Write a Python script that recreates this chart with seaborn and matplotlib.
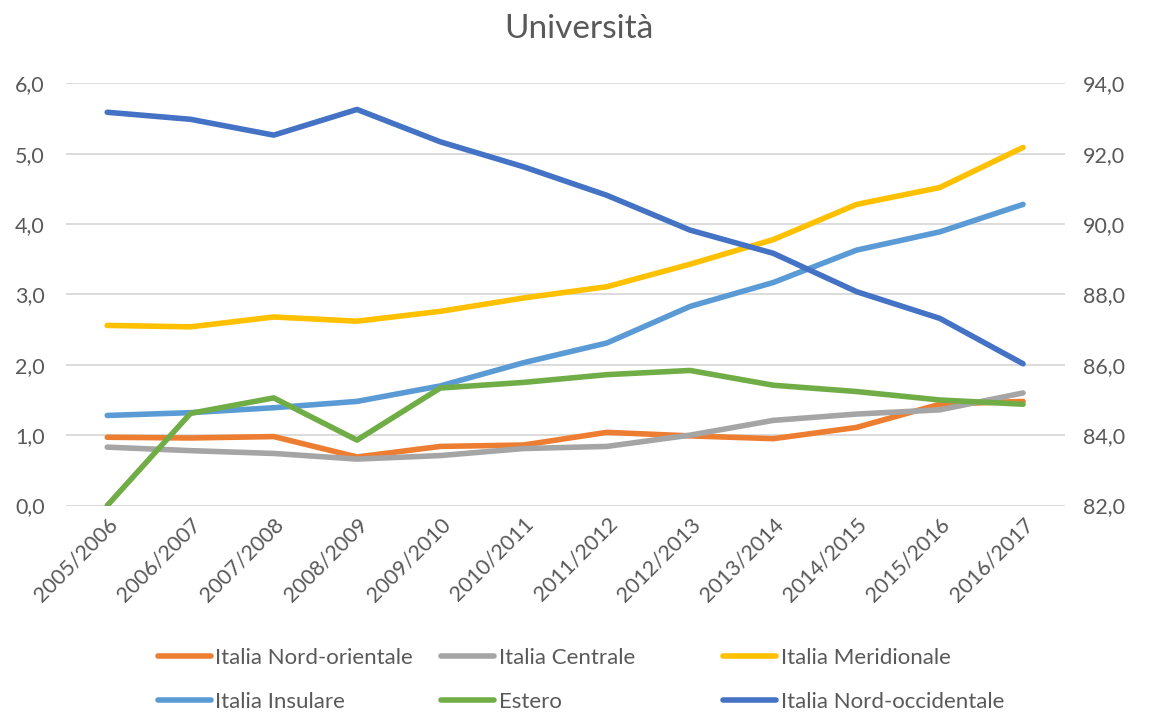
import pandas as pd
import numpy as np
import matplotlib
matplotlib.use('Agg')
import matplotlib.pyplot as plt
from matplotlib.ticker import FuncFormatter, MultipleLocator
from matplotlib.lines import Line2D
import seaborn as sns

# data
anni = ['2005/2006', '2006/2007', '2007/2008', '2008/2009', '2009/2010', '2010/2011',
        '2011/2012', '2012/2013', '2013/2014', '2014/2015', '2015/2016', '2016/2017']
nord_orientale = [0.97, 0.96, 0.98, 0.69, 0.84, 0.86, 1.04, 0.99, 0.95, 1.11, 1.44, 1.48]
centrale = [0.83, 0.78, 0.74, 0.66, 0.71, 0.81, 0.84, 1.00, 1.21, 1.30, 1.36, 1.60]
meridionale = [2.56, 2.54, 2.68, 2.62, 2.76, 2.95, 3.11, 3.43, 3.78, 4.28, 4.52, 5.09]
insulare = [1.28, 1.32, 1.39, 1.48, 1.70, 2.03, 2.31, 2.83, 3.17, 3.63, 3.89, 4.28]
estero = [0.00, 1.31, 1.53, 0.93, 1.67, 1.75, 1.86, 1.92, 1.71, 1.62, 1.50, 1.44]
# right axis
nord_occidentale = [93.18, 92.98, 92.53, 93.26, 92.34, 91.63, 90.82, 89.83, 89.17, 88.08, 87.32, 86.03]

colori = {
    'Italia Nord-orientale': '#ED7D31',
    'Italia Centrale': '#A5A5A5',
    'Italia Meridionale': '#FFC000',
    'Italia Insulare': '#5B9BD5',
    'Estero': '#70AD47',
    'Italia Nord-occidentale': '#4472C4',
}

pos = np.arange(len(anni))
df = pd.DataFrame({'pos': pos, 'Italia Nord-orientale': nord_orientale,
                   'Italia Centrale': centrale, 'Italia Meridionale': meridionale,
                   'Italia Insulare': insulare, 'Estero': estero})
df_long = df.melt(id_vars='pos', var_name='Area', value_name='Valore')
df_right = pd.DataFrame({'pos': pos, 'Valore': nord_occidentale})

sns.set_style('white')
plt.rcParams['font.family'] = ['Lato', 'DejaVu Sans']
grigio = '#595959'

fig = plt.figure(figsize=(11.51, 7.13), dpi=100)
ax = fig.add_axes([0.057, 0.291, 0.868, 0.592])
ax2 = ax.twinx()

lw = 4.0
sns.lineplot(data=df_long, x='pos', y='Valore', hue='Area', palette=colori,
             hue_order=['Italia Nord-orientale', 'Italia Centrale', 'Italia Meridionale',
                        'Italia Insulare', 'Estero'],
             linewidth=lw, legend=False, ax=ax, solid_capstyle='round')
sns.lineplot(data=df_right, x='pos', y='Valore', color=colori['Italia Nord-occidentale'],
             linewidth=lw, legend=False, ax=ax2, solid_capstyle='round')

fmt = FuncFormatter(lambda v, p: f'{v:.1f}'.replace('.', ','))
ax.set_ylim(0, 6)
ax.yaxis.set_major_locator(MultipleLocator(1))
ax.yaxis.set_major_formatter(fmt)
ax2.set_ylim(82, 94)
ax2.yaxis.set_major_locator(MultipleLocator(2))
ax2.yaxis.set_major_formatter(fmt)
ax.set_xlim(-0.5, len(anni) - 0.5)
ax.set_xticks(pos)
ax.set_xticklabels(anni, rotation=45, ha='right', rotation_mode='anchor')

ax.grid(axis='y', color='#D9D9D9', linewidth=1.3)
ax.set_axisbelow(True)
for a in (ax, ax2):
    for s in a.spines.values():
        s.set_visible(False)
    a.set_xlabel('')
    a.set_ylabel('')
    a.tick_params(length=0, labelsize=15.5, colors=grigio)
ax.tick_params(axis='y', pad=15)
ax2.tick_params(axis='y', pad=13)
ax.tick_params(axis='x', pad=6)

fig.suptitle('Università', x=0.503, y=0.98, fontsize=24, color=grigio)

# legend: three columns placed like the original
colonne = [['Italia Nord-orientale', 'Italia Insulare'],
           ['Italia Centrale', 'Estero'],
           ['Italia Meridionale', 'Italia Nord-occidentale']]
xs = [0.137, 0.383, 0.628]
for x, nomi in zip(xs, colonne):
    handles = [Line2D([], [], color=colori[n], linewidth=lw) for n in nomi]
    leg = fig.legend(handles, nomi, loc='upper left', bbox_to_anchor=(x, 0.091),
                     bbox_transform=fig.transFigure,
                     frameon=False, fontsize=16, handlelength=2.4, handletextpad=0.2,
                     labelspacing=1.07, borderaxespad=0, borderpad=0)
    for t in leg.get_texts():
        t.set_color(grigio)

fig.savefig('out.png', dpi=100)
